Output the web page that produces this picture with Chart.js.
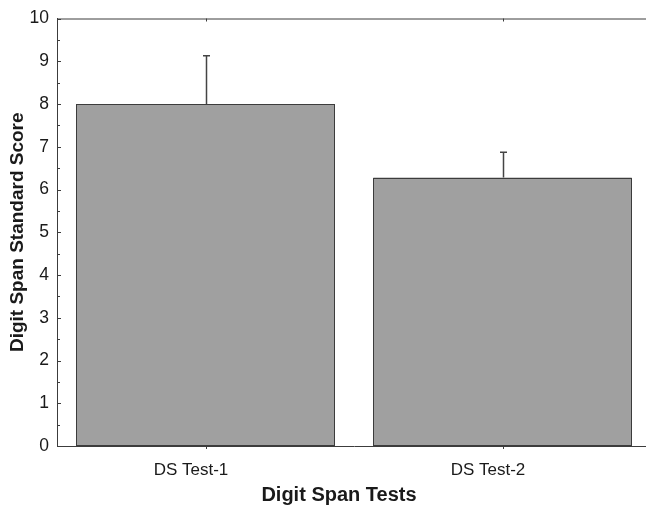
<!DOCTYPE html>
<html>
<head>
<meta charset="utf-8">
<script src="https://cdn.jsdelivr.net/npm/chart.js@4/dist/chart.umd.min.js"></script>
<style>
  html, body { margin: 0; padding: 0; background: #fff; overflow: hidden; }
  #wrap { width: 656px; height: 506px; }
</style>
</head>
<body>
<div id="wrap"><canvas id="chart" width="656" height="506"></canvas></div>
<script>
// values
const categories = ["DS Test-1", "DS Test-2"];
const means      = [8.0, 6.28];
const errors     = [1.13, 0.59];
const yTicks     = [0, 1, 2, 3, 4, 5, 6, 7, 8, 9, 10];
const xTitle     = "Digit Span Tests";

const axisColor = "#3c3c3c";
const textColor = "#1a1a1a";
const family    = "'Liberation Sans', Arial, sans-serif";

// error bars (upper only), bar outlines, inward tick marks, top frame, x title
const decorations = {
    id: "decorations",
    afterDatasetsDraw(chart) {
        const { ctx, chartArea, scales } = chart;
        const x = scales.x, y = scales.y;
        ctx.save();
        ctx.strokeStyle = axisColor;
        ctx.lineWidth = 1;

        // top frame
        ctx.beginPath();
        ctx.moveTo(chartArea.left, chartArea.top + 0.5);
        ctx.lineTo(chartArea.right, chartArea.top + 0.5);
        ctx.stroke();

        // y ticks, major and half-step minor, left and right sides
        yTicks.forEach(v => {
            const py = Math.round(y.getPixelForValue(v)) + 0.5;
            ctx.beginPath();
            ctx.moveTo(chartArea.left, py);
            ctx.lineTo(chartArea.left + 4, py);
            ctx.moveTo(chartArea.right, py);
            ctx.lineTo(chartArea.right - 4, py);
            ctx.stroke();
            if (v < 10) {
                const pm = Math.round(y.getPixelForValue(v + 0.5)) + 0.5;
                ctx.beginPath();
                ctx.moveTo(chartArea.left, pm);
                ctx.lineTo(chartArea.left + 3, pm);
                ctx.moveTo(chartArea.right, pm);
                ctx.lineTo(chartArea.right - 3, pm);
                ctx.stroke();
            }
        });

        // x ticks at category centres, top (inward) and bottom (outward)
        categories.forEach((c, i) => {
            const px = Math.round(x.getPixelForValue(i)) + 0.5;
            ctx.beginPath();
            ctx.moveTo(px, chartArea.top);
            ctx.lineTo(px, chartArea.top + 3);
            ctx.moveTo(px, chartArea.bottom);
            ctx.lineTo(px, chartArea.bottom + 3);
            ctx.stroke();
        });

        const meta = chart.getDatasetMeta(0);

        // crisp bar outlines
        meta.data.forEach(bar => {
            const l = Math.round(bar.x - bar.width / 2) + 0.5;
            const r = Math.round(bar.x + bar.width / 2) - 0.5;
            const t = Math.round(bar.y) + 0.5;
            const b = Math.round(bar.base) - 0.5;
            ctx.strokeRect(l, t, r - l, b - t);
        });

        // error bars
        ctx.strokeStyle = "#444";
        ctx.lineWidth = 1.5;
        meta.data.forEach((bar, i) => {
            const px = Math.round(bar.x) + 0.5;
            const top = y.getPixelForValue(means[i] + errors[i]);
            ctx.beginPath();
            ctx.moveTo(px, bar.y);
            ctx.lineTo(px, top);
            ctx.moveTo(px - 3.5, top);
            ctx.lineTo(px + 3.5, top);
            ctx.stroke();
        });

        // x axis title, sits left of the plot centre like the labels
        ctx.fillStyle = textColor;
        ctx.font = "bold 20px " + family;
        ctx.textAlign = "center";
        ctx.textBaseline = "middle";
        ctx.fillText(xTitle, (chartArea.left + chartArea.right) / 2 - 15, 495);
        ctx.restore();
    }
};

new Chart(document.getElementById("chart").getContext("2d"), {
    type: "bar",
    data: {
        labels: categories,
        datasets: [{
            data: means,
            backgroundColor: "#a0a0a0",
            borderWidth: 0,
            categoryPercentage: 1.0,
            barPercentage: 0.87,
        }],
    },
    options: {
        responsive: false,
        animation: false,
        events: [],
        layout: { padding: { top: 16, right: 5, left: 0, bottom: 0 } },
        plugins: { legend: { display: false }, tooltip: { enabled: false } },
        scales: {
            x: {
                offset: true,
                grid: { display: false, drawTicks: false },
                border: { display: true, color: axisColor, width: 1 },
                ticks: {
                    color: textColor,
                    padding: 14,
                    labelOffset: -14.5,
                    font: { family: family, size: 17 },
                },
                afterFit: s => { s.height = 60; },
            },
            y: {
                min: 0,
                max: 10,
                grid: { display: false, drawTicks: false },
                border: { display: true, color: axisColor, width: 1 },
                ticks: {
                    stepSize: 1,
                    color: textColor,
                    padding: 8,
                    font: { family: family, size: 17.5 },
                },
                title: {
                    display: true,
                    text: "Digit Span Standard Score",
                    color: textColor,
                    padding: { top: 6, bottom: 0 },
                    font: { family: family, size: 19, weight: "bold" },
                },
                afterFit: s => { s.width = 57; },
            },
        },
    },
    plugins: [decorations],
});
</script>
</body>
</html>
